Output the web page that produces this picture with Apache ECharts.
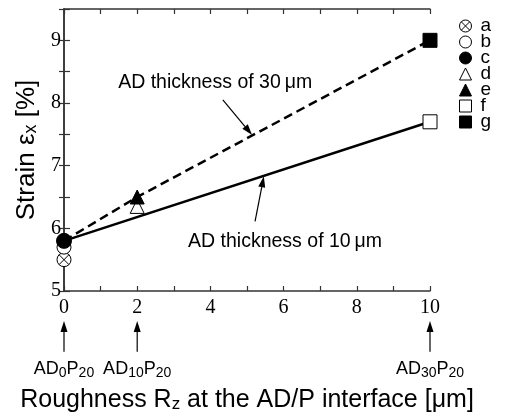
<!DOCTYPE html>
<html><head><meta charset="utf-8">
<script src="https://cdn.jsdelivr.net/npm/echarts@6/dist/echarts.min.js"></script>
<style>html,body{margin:0;padding:0;background:#fff}#c{width:514px;height:418px}</style>
</head><body><div id="c"></div>
<script>
// ---- data ----
const pointNames = ['a','b','c','d','e','f','g'];
const pointX = [0, 0, 0, 2, 2, 10, 10];
const pointY = [5.5, 5.7, 5.8, 6.35, 6.5, 7.7, 9.0];
const line30X = [0, 2, 10];
const line30Y = [5.8, 6.5, 9.0];
const line10X = [0, 10];
const line10Y = [5.8, 7.7];
const specimenX = [0, 2, 10];
const specimenLabels = ['AD{s|0}P{s|20}', 'AD{s|10}P{s|20}', 'AD{s|30}P{s|20}'];

const SANS = 'Liberation Sans, Arial, sans-serif';
const SERIF = 'Liberation Serif, Times New Roman, serif';
const circleX = 'path://M0,-10A10,10,0,1,1,0,10A10,10,0,1,1,0,-10ZM-7.07,-7.07L7.07,7.07M7.07,-7.07L-7.07,7.07';
const symbols = [circleX, 'circle', 'circle', 'triangle', 'triangle', 'rect', 'rect'];
const filled = [false, false, true, false, true, false, true];
const sizes = [14, 14, 15, 14, 14, 14, 14];

const chart = echarts.init(document.getElementById('c'));
const axisLine = {lineStyle: {color: '#333', width: 1.5}};
const sub = {fontSize: 12, lineHeight: 12, verticalAlign: 'bottom', fontFamily: SANS, color: '#000'};

const series = [
  {type: 'line', data: line30X.map((x, i) => [x, line30Y[i]]), symbol: 'none',
   lineStyle: {color: '#000', width: 2.5, type: [9, 5]}, z: 2, silent: true},
  {type: 'line', data: line10X.map((x, i) => [x, line10Y[i]]), symbol: 'none',
   lineStyle: {color: '#000', width: 2.5}, z: 2, silent: true}
];
pointNames.forEach((n, i) => {
  series.push({
    type: 'scatter', name: n, data: [[pointX[i], pointY[i]]],
    symbol: symbols[i], symbolSize: sizes[i], z: 3,
    itemStyle: {color: filled[i] ? '#000' : '#fff', borderColor: '#000', borderWidth: 1, opacity: 1}
  });
});

chart.setOption({
  animation: false,
  grid: {left: 64, right: 84, top: 9, bottom: 127},
  legend: {
    data: pointNames, orient: 'vertical', left: 459, top: 16, padding: 0,
    itemWidth: 12, itemHeight: 12, itemGap: -4,
    itemStyle: {borderWidth: 1},
    textStyle: {fontFamily: SANS, fontSize: 19, color: '#000', lineHeight: 18, padding: [2, 0, 0, 4]}
  },
  xAxis: [
    {type: 'value', min: 0, max: 10, interval: 1, position: 'bottom',
     axisLine: axisLine, splitLine: {show: false},
     axisTick: {inside: true, length: 5, lineStyle: {color: '#333', width: 1.2}},
     axisLabel: {formatter: v => (v % 2 === 0 ? String(v) : ''), fontFamily: SERIF, fontSize: 20, color: '#000', margin: 7},
     name: 'Roughness R{s|z} at the AD/P interface [μm]', nameLocation: 'middle', nameGap: 97,
     nameTextStyle: {fontFamily: SANS, fontSize: 25, color: '#000', rich: {s: Object.assign({}, sub, {fontSize: 17, lineHeight: 17})}}},
    {type: 'value', min: 0, max: 10, interval: 1, position: 'top',
     axisLine: axisLine, splitLine: {show: false}, axisLabel: {show: false},
     axisTick: {inside: true, length: 5, lineStyle: {color: '#333', width: 1.2}}}
  ],
  yAxis: [
    {type: 'value', min: 5, max: 9.5, interval: 0.5, position: 'left',
     axisLine: axisLine, splitLine: {show: false},
     axisTick: {inside: true, length: 6, lineStyle: {color: '#333', width: 1.2}},
     axisLabel: {formatter: v => (Number.isInteger(v) ? String(v) : ''), fontFamily: SERIF, fontSize: 20, color: '#000', margin: 3},
     name: 'Strain ε{s|x} [%]', nameLocation: 'middle', nameGap: 20, nameRotate: 90,
     nameTextStyle: {fontFamily: SANS, fontSize: 26, color: '#000', rich: {s: Object.assign({}, sub, {fontSize: 18, lineHeight: 18})}}},
    {type: 'value', min: 5, max: 9.5, interval: 0.5, position: 'right',
     axisLine: axisLine, splitLine: {show: false}, axisLabel: {show: false},
     axisTick: {inside: true, length: 5, lineStyle: {color: '#333', width: 1.2}}}
  ],
  series: series
});

// ---- annotations placed through the axes' scales ----
function px(x, y) { return chart.convertToPixel({xAxisIndex: 0, yAxisIndex: 0}, [x, y]); }
function arrow(p1, p2, len, w, lw) {
  const dx = p2[0] - p1[0], dy = p2[1] - p1[1];
  const d = Math.sqrt(dx * dx + dy * dy), ux = dx / d, uy = dy / d;
  const bx = p2[0] - ux * len, by = p2[1] - uy * len;
  return [
    {type: 'line', shape: {x1: p1[0], y1: p1[1], x2: bx, y2: by}, style: {stroke: '#000', lineWidth: lw}, z: 10},
    {type: 'polygon', shape: {points: [p2, [bx - uy * w / 2, by + ux * w / 2], [bx + uy * w / 2, by - ux * w / 2]]},
     style: {fill: '#000'}, z: 10}
  ];
}
const g = [];
const t30 = px(4.13, 8.32);
g.push({type: 'text', x: t30[0], y: t30[1], z: 10,
  style: {text: 'AD thickness of 30\u2009μm', fontFamily: SANS, fontSize: 19.5, fill: '#000', align: 'center', verticalAlign: 'middle'}});
g.push(...arrow(px(4.34, 8.05), px(5.14, 7.49), 11, 7, 1.2));
const t10 = px(6.04, 5.79);
g.push({type: 'text', x: t10[0], y: t10[1], z: 10,
  style: {text: 'AD thickness of 10\u2009μm', fontFamily: SANS, fontSize: 19.5, fill: '#000', align: 'center', verticalAlign: 'middle'}});
g.push(...arrow(px(5.22, 6.11), px(5.46, 6.83), 11, 7, 1.2));
specimenX.forEach((x, i) => {
  g.push(...arrow(px(x, 4.03), px(x, 4.52), 11, 7, 1.2));
  const p = px(x, 3.75);
  g.push({type: 'text', x: p[0], y: p[1], z: 10,
    style: {text: specimenLabels[i], fontFamily: SANS, fontSize: 18, fill: '#000', align: 'center', verticalAlign: 'middle',
      lineHeight: 22, rich: {s: {fontSize: 14, lineHeight: 14, verticalAlign: 'bottom', fontFamily: SANS, fill: '#000'}}}});
});
chart.setOption({graphic: g});
</script></body></html>
